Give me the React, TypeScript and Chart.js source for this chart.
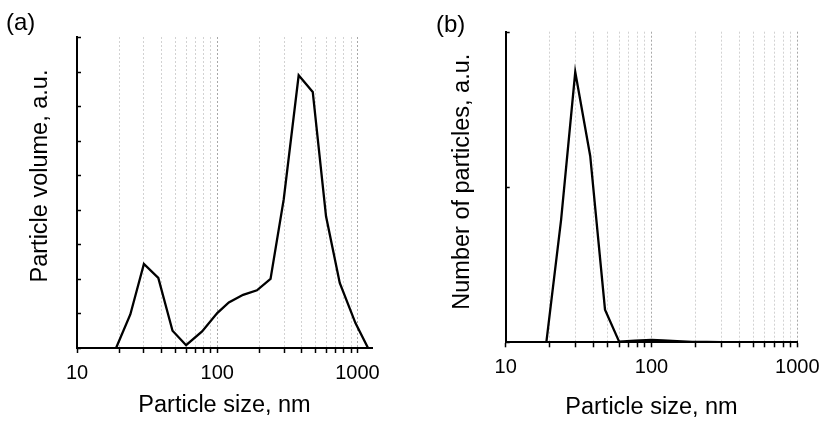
import React, { useEffect, useRef } from 'react';
import { Chart, registerables } from 'chart.js';

Chart.register(...registerables);

// ---- data ----
const X_TICKS = [10, 20, 30, 40, 50, 60, 70, 80, 90, 100, 200, 300, 400, 500, 600, 700, 800, 900, 1000];
const X_LABELS = [10, 100, 1000];

// (a) volume distribution
const VOLUME_SIZES = [19, 24, 30, 38, 48, 60, 78, 100, 121, 153, 192, 240, 298, 381, 480, 597, 748, 968, 1190];
const VOLUME_VALUES = [0, 0.97, 2.43, 2.03, 0.5, 0.08, 0.48, 1.01, 1.32, 1.54, 1.67, 2.0, 4.3, 7.89, 7.41, 3.81, 1.88, 0.72, 0];

// (b) number distribution
const NUMBER_SIZES = [19, 24, 30, 38, 48, 60, 77, 100, 120, 150, 190, 240, 300, 380, 480];
const NUMBER_VALUES = [0, 0.79, 1.74, 1.2, 0.21, 0.004, 0.01, 0.015, 0.012, 0.007, 0.003, 0.002, 0.001, 0.001, 0];

const FONT = '"Liberation Sans", Arial, Helvetica, sans-serif';

const decorPlugin = {
  id: 'decor',
  afterDraw(chart: any, _args: any, opts: any) {
    const { ctx, chartArea } = chart;
    const ys = chart.scales.y;
    ctx.save();
    ctx.strokeStyle = '#000';
    ctx.lineWidth = 1.5;
    ys.ticks.forEach((t: any) => {
      const y = Math.round(ys.getPixelForValue(t.value)) + 0.5;
      ctx.beginPath();
      ctx.moveTo(chartArea.left, y);
      ctx.lineTo(chartArea.left + 4, y);
      ctx.stroke();
    });
    ctx.fillStyle = '#000';
    ctx.font = `23.5px ${FONT}`;
    ctx.textAlign = 'center';
    ctx.textBaseline = 'middle';
    ctx.translate(chartArea.left + opts.dx, chartArea.top + opts.dy);
    ctx.rotate(-Math.PI / 2);
    ctx.fillText(opts.text, 0, 0);
    ctx.restore();
  },
};

type PanelProps = {
  xs: number[];
  ys: number[];
  xMax: number;
  yMax: number;
  yTitle: string;
  padding: { left: number; right: number; top: number; bottom: number };
  axisHeight: number;
  titlePadBottom: number;
  titleDx: number;
  titleDy: number;
};

function Panel(p: PanelProps) {
  const ref = useRef<HTMLCanvasElement>(null);
  useEffect(() => {
    if (!ref.current) return;
    const chart = new Chart(ref.current, {
      type: 'line',
      data: {
        datasets: [
          {
            data: p.xs.map((x, i) => ({ x, y: p.ys[i] })),
            borderColor: '#000',
            borderWidth: 2.3,
            pointRadius: 0,
            tension: 0,
            fill: false,
          },
        ],
      },
      options: {
        animation: false,
        responsive: false,
        devicePixelRatio: 1,
        layout: { padding: p.padding },
        plugins: {
          legend: { display: false },
          tooltip: { enabled: false },
          decor: { text: p.yTitle, dx: p.titleDx, dy: p.titleDy },
        } as any,
        scales: {
          x: {
            type: 'logarithmic',
            min: 10,
            max: p.xMax,
            afterBuildTicks: (scale: any) => {
              scale.ticks = X_TICKS.filter((v) => v <= p.xMax).map((v) => ({ value: v }));
            },
            afterFit: (scale: any) => {
              scale.height = p.axisHeight;
            },
            ticks: {
              autoSkip: false,
              maxRotation: 0,
              minRotation: 0,
              padding: 8.5,
              color: '#000',
              font: { family: FONT, size: 20 },
              callback: (v: any) => (X_LABELS.includes(Number(v)) ? String(v) : ''),
            },
            grid: {
              drawOnChartArea: true,
              drawTicks: true,
              tickLength: 5,
              tickColor: '#000',
              tickWidth: 1.5,
              lineWidth: 1,
              color: (ctx: any) => {
                const v = ctx.tick ? ctx.tick.value : 0;
                if (v === 10) return 'rgba(0,0,0,0)';
                return v === 100 || v === 1000 ? '#a8a8a8' : '#d2d2d2';
              },
            },
            border: { display: true, color: '#000', width: 2, dash: [2, 2] },
            title: {
              display: true,
              text: 'Particle size, nm',
              color: '#000',
              font: { family: FONT, size: 23.5 },
              padding: { top: 0, bottom: p.titlePadBottom },
            },
          },
          y: {
            type: 'linear',
            min: 0,
            max: p.yMax,
            ticks: { display: false, stepSize: 1 },
            grid: { drawOnChartArea: false, drawTicks: false },
            border: { display: true, color: '#000', width: 2 },
          },
        },
      },
      plugins: [decorPlugin as any],
    });
    return () => chart.destroy();
  }, []);
  return <canvas ref={ref} width={414} height={422} style={{ display: 'block' }} />;
}

const labelStyle: React.CSSProperties = {
  position: 'absolute',
  fontFamily: FONT,
  fontSize: 24,
  lineHeight: '24px',
  color: '#000',
};

export default function App() {
  return (
    <div style={{ position: 'absolute', left: 0, top: 0, width: 828, height: 422, background: '#fff' }}>
      <div style={{ position: 'absolute', left: 0, top: 0 }}>
        <Panel
          xs={VOLUME_SIZES}
          ys={VOLUME_VALUES}
          xMax={1270}
          yMax={9}
          yTitle="Particle volume, a.u."
          padding={{ left: 77, right: 42, top: 37, bottom: 0 }}
          axisHeight={74}
          titlePadBottom={1.9}
          titleDx={-36}
          titleDy={139}
        />
      </div>
      <div style={{ position: 'absolute', left: 414, top: 0 }}>
        <Panel
          xs={NUMBER_SIZES}
          ys={NUMBER_VALUES}
          xMax={1000}
          yMax={2}
          yTitle="Number of particles, a.u."
          padding={{ left: 91.7, right: 27.3, top: 31.7, bottom: 0 }}
          axisHeight={79.7}
          titlePadBottom={0}
          titleDx={-43.4}
          titleDy={150}
        />
      </div>
      <div style={{ ...labelStyle, left: 6, top: 10 }}>(a)</div>
      <div style={{ ...labelStyle, left: 436, top: 12 }}>(b)</div>
    </div>
  );
}
